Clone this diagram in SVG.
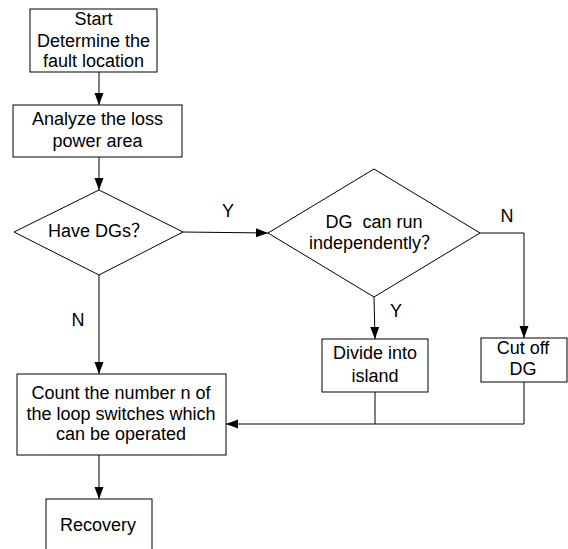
<svg xmlns="http://www.w3.org/2000/svg" width="568" height="549" viewBox="0 0 568 549">
<defs>
<marker id="ah" markerUnits="userSpaceOnUse" markerWidth="12" markerHeight="10" refX="12" refY="4.5" orient="auto">
<path d="M0,0 L12,4.5 L0,9 z" fill="#000"/>
</marker>
<style>
.box{fill:#fff;stroke:#000;stroke-width:1}
.t{font-family:"Liberation Sans","Noto Sans CJK SC",Arial,sans-serif;font-size:18px;fill:#000;text-anchor:middle}
.s{text-anchor:start}
.c{fill:none;stroke:#000;stroke-width:1}
</style>
</defs>
<rect width="568" height="549" fill="#fff"/>
<g id="connectors">
<path class="c" d="M99,72 L99,105" marker-end="url(#ah)"/>
<path class="c" d="M99,157 L99,190" marker-end="url(#ah)"/>
<path class="c" d="M183,232 L268,233" marker-end="url(#ah)"/>
<path class="c" d="M99,275 L99,374" marker-end="url(#ah)"/>
<path class="c" d="M374,297 L375,339" marker-end="url(#ah)"/>
<path class="c" d="M480,233 L524,233 L524,338" marker-end="url(#ah)"/>
<path class="c" d="M375,392 L375,424"/>
<path class="c" d="M524,382 L524,424 L226,424" marker-end="url(#ah)"/>
<path class="c" d="M99,455 L99,499" marker-end="url(#ah)"/>
<text class="t" x="228" y="217">Y</text>
<text class="t" x="507" y="222">N</text>
<text class="t" x="396" y="317">Y</text>
<text class="t" x="78" y="326">N</text>
</g>
<g id="start">
<rect class="box" x="30" y="9" width="127" height="63"/>
<text class="t" x="93.5" y="25">Start</text>
<text class="t" x="93.5" y="46.5">Determine the</text>
<text class="t" x="93.5" y="67">fault location</text>
</g>
<g id="analyze">
<rect class="box" x="13" y="105" width="169" height="52"/>
<text class="t" x="97.5" y="125">Analyze the loss</text>
<text class="t" x="97.5" y="147">power area</text>
</g>
<g id="haveDGs">
<path class="box" d="M99,190 L183,232 L99,275 L14,232 Z"/>
<text class="t s" x="48" y="237">Have DGs？</text>
</g>
<g id="dgIndependent">
<path class="box" d="M374,169 L480,233 L374,297 L268,233 Z"/>
<text class="t" x="374" y="228" xml:space="preserve">DG  can run</text>
<text class="t s" x="309" y="249">independently？</text>
</g>
<g id="divide">
<rect class="box" x="322" y="339" width="106" height="53"/>
<text class="t" x="375" y="359">Divide into</text>
<text class="t" x="375" y="382">island</text>
</g>
<g id="cutoff">
<rect class="box" x="481" y="338" width="86" height="44"/>
<text class="t" x="523" y="354">Cut off</text>
<text class="t" x="523" y="375">DG</text>
</g>
<g id="count">
<rect class="box" x="17" y="374" width="209" height="81"/>
<text class="t" x="121" y="399">Count the number n of</text>
<text class="t" x="121" y="419.5">the loop switches which</text>
<text class="t" x="121" y="440">can be operated</text>
</g>
<g id="recovery">
<rect class="box" x="46" y="499" width="106" height="60"/>
<text class="t" x="98" y="530.5">Recovery</text>
</g>
</svg>
